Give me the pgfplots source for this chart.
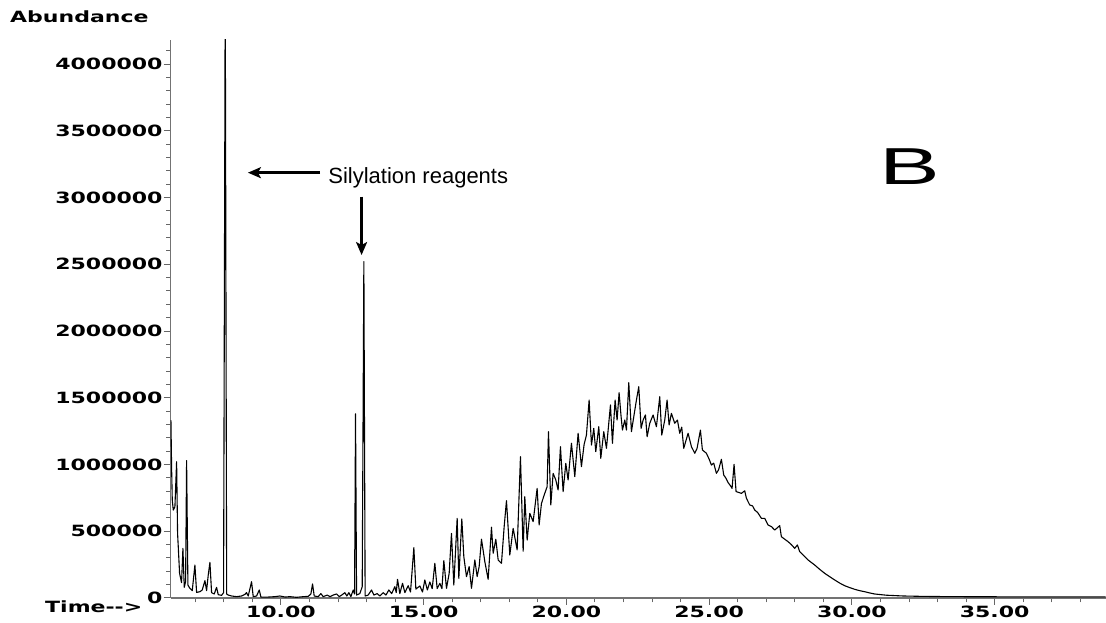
\documentclass[border=0pt]{standalone}
\usepackage{fontspec}
\setmainfont{Liberation Sans}
\newfontfamily\tickfont[FakeStretch=1.42]{DejaVu Sans Bold}
\newfontfamily\bfont[FakeStretch=1.75]{Liberation Sans}
\usepackage{pgfplots}
\pgfplotsset{compat=1.18}
\usetikzlibrary{arrows.meta}

\pgfplotstableread{
t A
6.148 1333000
6.171 984000
6.195 734000
6.230 659000
6.288 684000
6.347 1021000
6.381 484000
6.405 384000
6.451 185000
6.520 115000
6.568 372000
6.615 80000
6.662 122000
6.697 1029000
6.743 97000
6.813 72000
6.895 55000
6.988 247000
7.047 42000
7.163 47000
7.245 60000
7.339 130000
7.397 55000
7.455 172000
7.514 267000
7.572 40000
7.665 30000
7.747 80000
7.805 25000
7.922 20000
7.992 40000
8.050 4600000
8.100 30000
8.155 22000
8.272 15000
8.447 10000
8.622 15000
8.739 27000
8.797 40000
8.856 15000
8.972 122000
9.031 10000
9.148 15000
9.241 60000
9.300 7000
9.556 7000
9.790 10000
9.965 15000
10.150 7000
10.315 10000
10.548 5000
10.782 10000
10.957 12000
11.050 30000
11.109 105000
11.167 15000
11.307 10000
11.400 33000
11.482 10000
11.622 22000
11.720 10000
11.832 22000
11.949 30000
12.042 10000
12.130 22000
12.241 40000
12.310 15000
12.381 40000
12.451 10000
12.533 60000
12.580 30000
12.614 1380000
12.650 22000
12.766 33000
12.848 85000
12.906 2520000
12.950 15000
13.058 22000
13.175 60000
13.256 22000
13.373 33000
13.466 15000
13.583 40000
13.680 22000
13.781 60000
13.880 33000
13.991 85000
14.040 40000
14.085 140000
14.166 33000
14.260 110000
14.342 40000
14.458 92000
14.540 45000
14.657 377000
14.727 67000
14.867 90000
14.960 45000
15.042 135000
15.130 60000
15.217 120000
15.300 70000
15.392 260000
15.474 70000
15.567 110000
15.640 70000
15.707 280000
15.800 72000
15.894 185000
15.975 484000
16.057 97000
16.174 597000
16.232 147000
16.337 592000
16.407 310000
16.500 160000
16.594 235000
16.676 72000
16.793 285000
16.874 160000
16.944 235000
17.026 440000
17.143 272000
17.259 140000
17.376 530000
17.435 335000
17.528 440000
17.610 285000
17.726 260000
17.820 534000
17.901 729000
18.018 322000
18.135 522000
18.275 360000
18.391 1059000
18.485 350000
18.543 759000
18.625 434000
18.718 634000
18.835 572000
18.975 821000
19.045 547000
19.127 709000
19.243 784000
19.325 834000
19.372 1246000
19.454 697000
19.535 934000
19.629 884000
19.710 809000
19.792 1134000
19.885 797000
19.979 1009000
20.060 884000
20.177 1159000
20.294 909000
20.410 1234000
20.527 984000
20.620 1150000
20.702 1221000
20.796 1483000
20.878 1146000
20.959 1271000
21.029 1096000
21.134 1283000
21.204 1046000
21.309 1246000
21.403 1121000
21.543 1446000
21.613 1159000
21.706 1483000
21.776 1333000
21.846 1538000
21.916 1358000
21.963 1258000
22.045 1333000
22.103 1258000
22.185 1613000
22.278 1246000
22.360 1358000
22.453 1483000
22.535 1583000
22.617 1271000
22.687 1333000
22.768 1371000
22.827 1208000
22.920 1309000
23.037 1371000
23.153 1283000
23.270 1508000
23.340 1221000
23.445 1333000
23.527 1483000
23.597 1296000
23.679 1383000
23.795 1309000
23.889 1333000
23.970 1234000
24.040 1280000
24.110 1121000
24.262 1234000
24.379 1134000
24.496 1084000
24.577 1121000
24.694 1258000
24.764 1109000
24.904 1084000
25.000 1040000
25.079 996000
25.160 1010000
25.254 934000
25.330 960000
25.429 1039000
25.511 921000
25.580 900000
25.663 865000
25.750 840000
25.803 821000
25.873 1001000
25.943 797000
26.130 784000
26.246 803000
26.305 747000
26.421 697000
26.520 690000
26.597 659000
26.700 640000
26.830 597000
26.947 597000
27.063 547000
27.180 535000
27.297 509000
27.472 542000
27.530 459000
27.650 440000
27.764 422000
27.880 400000
27.997 372000
28.091 397000
28.172 347000
28.300 320000
28.464 285000
28.697 247000
28.870 215000
29.047 185000
29.220 160000
29.398 135000
29.570 112000
29.748 92000
29.920 78000
30.098 65000
30.270 55000
30.448 47000
30.620 38000
30.798 30000
31.200 21000
31.800 15000
32.500 12000
33.500 10000
35.000 9000
37.000 8000
38.900 8000
}\tic

\begin{document}
\begin{tikzpicture}
\useasboundingbox (-170.7pt,-25pt) rectangle (935.3pt,598pt);
\begin{axis}[
  at={(0,0)}, anchor=south west,
  scale only axis, width=935pt, height=558pt,
  xmin=6.14, xmax=38.89, ymin=0, ymax=4180000,
  scaled y ticks=false,
  axis x line*=bottom, axis y line*=left,
  axis line style={black!55, line width=1.2pt},
  tick align=outside,
  tick style={black!60, line width=1pt},
  major tick length=7pt, minor tick length=4.5pt,
  xtick={10,15,20,25,30,35},
  xticklabels={10.00,15.00,20.00,25.00,30.00,35.00},
  minor xtick={7,8,...,38},
  ytick={0,500000,1000000,1500000,2000000,2500000,3000000,3500000,4000000},
  yticklabels={0,500000,1000000,1500000,2000000,2500000,3000000,3500000,4000000},
  minor ytick={100000,200000,300000,400000,600000,700000,800000,900000,1100000,1200000,1300000,1400000,1600000,1700000,1800000,1900000,2100000,2200000,2300000,2400000,2600000,2700000,2800000,2900000,3100000,3200000,3300000,3400000,3600000,3700000,3800000,3900000,4100000},
  ticklabel style={font=\tickfont\fontsize{15.5}{18}\selectfont},
  xticklabel style={inner sep=1pt},
  yticklabel style={inner sep=1pt},
]
\addplot[black, line width=1.1pt, line join=round] table[x=t, y=A] {\tic};
\node[anchor=base west, font=\fontsize{22}{26}\selectfont, inner sep=0pt]
  at (axis cs:11.656,3106000) {Silylation reagents};
\draw[line width=2.8pt, -{Stealth[length=13pt,width=11pt,inset=3pt]}]
  (axis cs:11.37,3186000) -- (axis cs:8.845,3186000);
\draw[line width=2.8pt, -{Stealth[length=13pt,width=11pt,inset=3pt]}]
  (axis cs:12.826,3006000) -- (axis cs:12.826,2569000);
\node[anchor=base west, font=\bfont\fontsize{52}{60}\selectfont, inner sep=0pt]
  at (axis cs:30.97,3094000) {B};
\end{axis}
\node[anchor=base west, inner sep=0pt, font=\tickfont\fontsize{15.5}{18}\selectfont]
  at (-160.7pt,575pt) {Abundance};
\node[anchor=base west, inner sep=0pt, font=\tickfont\fontsize{15.5}{18}\selectfont]
  at (-125.7pt,-15pt) {Time-\kern0pt-\kern0pt>};
\end{tikzpicture}
\end{document}
